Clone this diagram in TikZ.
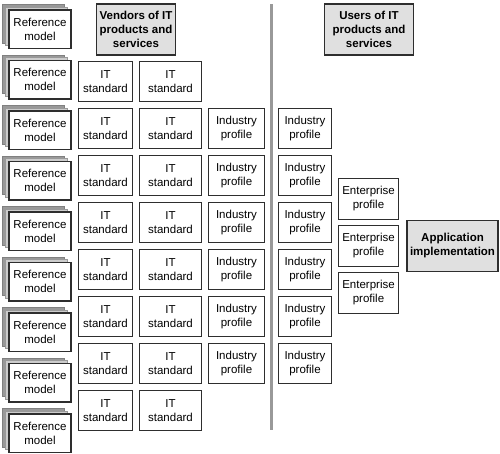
\documentclass[tikz,border=0pt]{standalone}
\usepackage{fontspec}
\setmainfont{Liberation Sans}
\usetikzlibrary{shadows}
\begin{document}
\begin{tikzpicture}[x=1pt,y=-1pt,
  box/.style={draw=black!82, line width=1.5pt, fill=white, inner sep=0pt, align=center,
    font=\fontsize{11.5}{14}\selectfont},
  hdr/.style={box, fill=black!12, font=\fontsize{11.5}{14}\selectfont\bfseries},
  rm/.style={box, minimum width=62pt, minimum height=38.5pt,
    general shadow={shadow xshift=-7pt, shadow yshift=5.5pt, fill=black!40, draw=black!50, line width=0.4pt},
    general shadow={shadow xshift=-3.6pt, shadow yshift=2.8pt, fill=black!20, draw=black!40, line width=0.4pt}},
  itA/.style={box, minimum width=54pt, minimum height=40pt},
  itB/.style={box, minimum width=62pt, minimum height=40pt},
  indA/.style={box, minimum width=56pt, minimum height=40pt},
  indB/.style={box, minimum width=53pt, minimum height=40pt},
  ent/.style={box, minimum width=60pt, minimum height=41pt},
  divider/.style={draw=black!40, line width=3pt}
]
\useasboundingbox (0,0) rectangle (500,453);
% reference models
\foreach \i in {0,...,8}{
  \node[rm] (ref\i) at (40, 29+50.5*\i) {Reference\\model};
}
% headers
\node[hdr, minimum width=79pt, minimum height=51pt] (vend) at (136,29.5) {Vendors of IT\\products and\\services};
\node[hdr, minimum width=89pt, minimum height=51pt] (users) at (369,29.5) {Users of IT\\products and\\services};
% IT standards
\foreach \j in {0,...,7}{
  \node[itA] (itA\j) at (105.5, 81.5+47*\j) {IT\\standard};
  \node[itB] (itB\j) at (170.5, 81.5+47*\j) {IT\\standard};
}
% industry profiles
\foreach \j in {1,...,6}{
  \node[indA] (indA\j) at (236.5, 81.5+47*\j) {Industry\\profile};
  \node[indB] (indB\j) at (305, 81.5+47*\j) {Industry\\profile};
}
% divider
\coordinate (dtop) at (271.5,4);
\coordinate (dbot) at (271.5,430);
\draw[divider] (dtop) -- (dbot);
% enterprise profiles
\node[ent] (ent1) at (368.5,199) {Enterprise\\profile};
\node[ent] (ent2) at (368.5,246) {Enterprise\\profile};
\node[ent] (ent3) at (368.5,293) {Enterprise\\profile};
% application
\node[hdr, minimum width=91pt, minimum height=51pt] (app) at (452.5,246) {Application\\implementation};
\end{tikzpicture}
\end{document}
